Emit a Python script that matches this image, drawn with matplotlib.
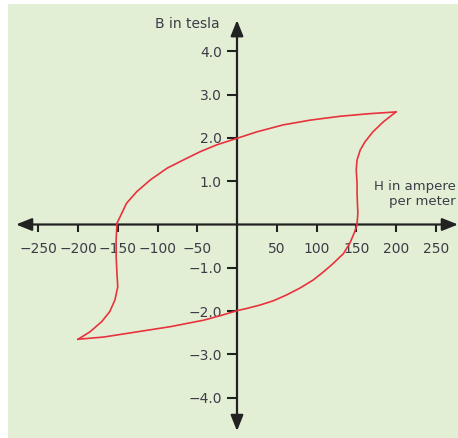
import numpy as np
import matplotlib
matplotlib.use('Agg')
import matplotlib.pyplot as plt
from matplotlib.patches import Rectangle, FancyArrowPatch

# ascending branch (left side + upper curve), H in A/m, B in tesla
h_up = [-200, -185, -170, -160, -153.5, -150, -151, -152, -152, -151, -147,
        -139, -126, -109, -88, -67.5, -46.5, -25.5, 0, 25, 58, 92, 130, 167, 200]
b_up = [-2.65, -2.48, -2.24, -2.01, -1.74, -1.44, -1.13, -0.74, -0.36, 0.03,
        0.18, 0.49, 0.76, 1.03, 1.30, 1.49, 1.68, 1.84, 1.99, 2.14, 2.30, 2.41,
        2.50, 2.56, 2.60]

# descending branch (right side + lower curve)
h_down = [200, 184, 171, 161, 155, 151, 150, 151, 151, 152, 151, 148, 142, 134,
          121, 109, 96, 79, 62, 46, 29, 12, 0, -20, -42, -84, -126, -168, -200]
b_down = [2.60, 2.37, 2.14, 1.91, 1.72, 1.49, 1.26, 0.95, 0.72, 0.26, 0.0, -0.17,
          -0.43, -0.67, -0.90, -1.09, -1.28, -1.47, -1.63, -1.76, -1.86, -1.94,
          -1.99, -2.10, -2.21, -2.36, -2.48, -2.60, -2.65]

x_ticks = [-250, -200, -150, -100, -50, 50, 100, 150, 200, 250]
y_ticks = [-4.0, -3.0, -2.0, -1.0, 1.0, 2.0, 3.0, 4.0]

BG = '#e3efd5'
TXT = '#3c3c48'
AX = '#222222'
RED = '#e8323c'

fig = plt.figure(figsize=(4.58, 4.38), dpi=100)
fig.patch.set_facecolor('white')
fig.add_artist(Rectangle((8 / 458, 0), 1, 1 - 4 / 438, transform=fig.transFigure,
                         facecolor=BG, edgecolor='none', zorder=0))

ax = fig.add_axes([0, 0, 1, 1])
ax.patch.set_alpha(0)
ax.set_xlim(-237 / 0.795, (458 - 237) / 0.795)
ax.set_ylim((224.5 - 438) / 43.3, 224.5 / 43.3)

for s in ['top', 'right']:
    ax.spines[s].set_visible(False)
ax.spines['left'].set_position('zero')
ax.spines['bottom'].set_position('zero')
ax.spines['left'].set_visible(False)
ax.spines['bottom'].set_visible(False)

ax.set_xticks(x_ticks)
ax.set_xticklabels(['{0:d}'.format(v).replace('-', '\u2212') for v in x_ticks])
ax.set_yticks(y_ticks)
ax.set_yticklabels(['{0:.1f}'.format(v).replace('-', '\u2212') for v in y_ticks])
ax.tick_params(axis='x', direction='out', length=6, width=1.5, color=AX,
               pad=6.5, labelsize=10, labelcolor=TXT)
ax.tick_params(axis='y', direction='out', length=7, width=1.5, color=AX,
               pad=4, labelsize=10, labelcolor=TXT)

# axes with arrowheads
for (x0, y0), (x1, y1) in [((-278, 0), (278, 0)), ((0, -4.77), (0, 4.72))]:
    ax.add_patch(FancyArrowPatch((x0, y0), (x1, y1),
                                 arrowstyle='<|-|>,head_length=0.95,head_width=0.38',
                                 mutation_scale=10, lw=1.6, color=AX,
                                 shrinkA=0, shrinkB=0, zorder=3))

ax.plot(h_up, b_up, color=RED, lw=1.2, zorder=4, solid_joinstyle='round')
ax.plot(h_down, b_down, color=RED, lw=1.2, zorder=4, solid_joinstyle='round')

ax.text(220 / 458, 1 - 24 / 438, 'B in tesla', transform=ax.transAxes,
        ha='right', va='center', fontsize=10, color=TXT)
ax.text(456 / 458, 1 - 194 / 438, 'H in ampere\nper meter', transform=ax.transAxes,
        ha='right', va='center', multialignment='right', fontsize=9.5,
        color=TXT, linespacing=1.15)

plt.savefig('out.png', dpi=100)
